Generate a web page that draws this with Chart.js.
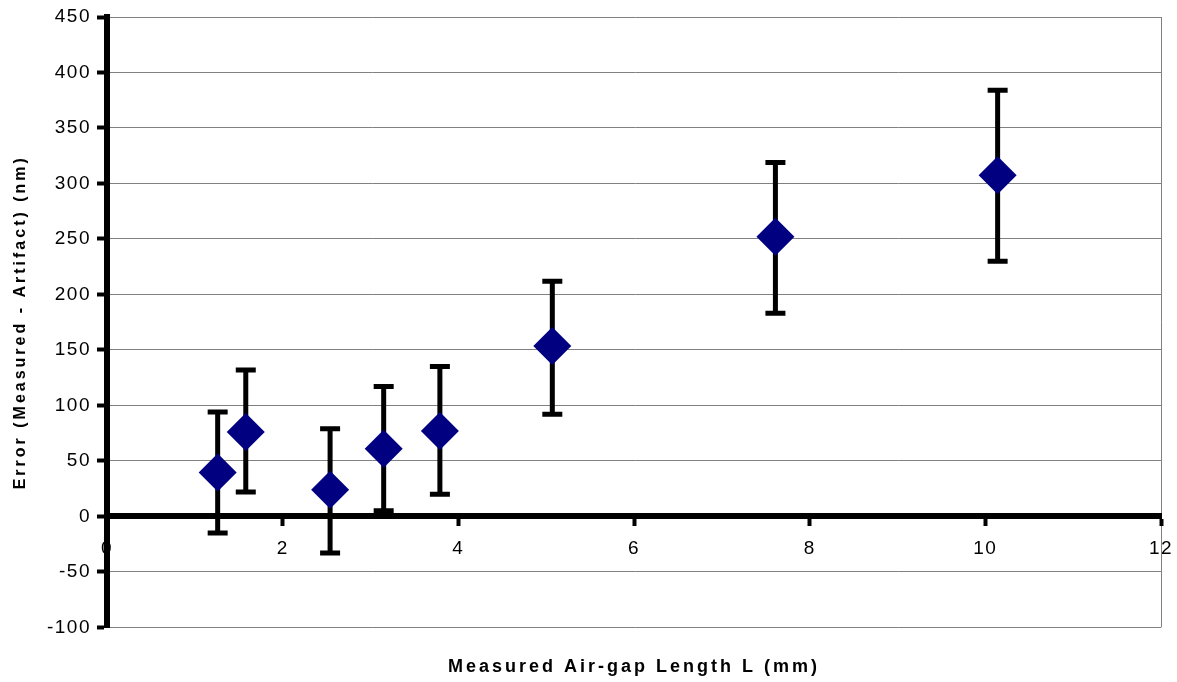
<!DOCTYPE html>
<html>
<head>
<meta charset="utf-8">
<script src="https://cdn.jsdelivr.net/npm/chart.js@4.4.0/dist/chart.umd.min.js"></script>
<style>
  html, body { margin: 0; padding: 0; background: #fff; }
  #wrap { width: 1177px; height: 682px; }
</style>
</head>
<body>
<div id="wrap"><canvas id="chart" width="1177" height="682"></canvas></div>
<script>
// air-gap length (mm) and measured error (nm)
const gapLength = [1.26, 1.58, 2.54, 3.15, 3.79, 5.07, 7.61, 10.14];
const errorNm   = [39.5, 76, 24, 61, 77, 153.5, 252, 307.5];
const errHigh   = [94, 132, 79, 117, 135, 212, 319, 384];
const errLow    = [-15, 22, -33, 5, 20, 92, 183, 230];

const xTitle = 'Measured Air-gap Length L (mm)';
const yTitle = 'Error (Measured - Artifact) (nm)';

// the original text is spread out a little: wider on the titles,
// tick label layers (z:1) are drawn after the datasets with a smaller spacing
const spacing = {
    id: 'spacing',
    beforeUpdate(chart) { chart.ctx.letterSpacing = '1.5px'; },
    beforeDraw(chart) { chart.ctx.letterSpacing = '3px'; },
    afterDatasetsDraw(chart) { chart.ctx.letterSpacing = '1.5px'; }
};

// error bars drawn under the diamonds
const errorBars = {
    id: 'errorBars',
    beforeDatasetsDraw(chart) {
        const { ctx, scales: { x, y } } = chart;
        ctx.save();
        ctx.strokeStyle = '#000';
        ctx.lineWidth = 5;
        ctx.lineCap = 'butt';
        gapLength.forEach((g, i) => {
            const px = x.getPixelForValue(g);
            const top = y.getPixelForValue(errHigh[i]);
            const bot = y.getPixelForValue(errLow[i]);
            ctx.beginPath();
            ctx.moveTo(px, top);
            ctx.lineTo(px, bot);
            ctx.moveTo(px - 10, top);
            ctx.lineTo(px + 10, top);
            ctx.moveTo(px - 10, bot);
            ctx.lineTo(px + 10, bot);
            ctx.stroke();
        });
        ctx.restore();
    }
};

new Chart(document.getElementById('chart').getContext('2d'), {
    type: 'scatter',
    data: {
        datasets: [{
            data: gapLength.map((g, i) => ({ x: g, y: errorNm[i] })),
            pointStyle: 'rectRot',
            pointRadius: 19,
            pointHoverRadius: 19,
            backgroundColor: '#000080',
            borderColor: '#000080',
            borderWidth: 0
        }]
    },
    options: {
        responsive: false,
        animation: false,
        layout: { autoPadding: false, padding: { top: 17, right: 16, left: 8, bottom: 0 } },
        plugins: {
            legend: { display: false },
            tooltip: { enabled: false },
            title: {
                display: true,
                position: 'bottom',
                fullSize: false,
                text: xTitle,
                color: '#000',
                font: { family: 'Liberation Sans, Arial', size: 18, weight: 'bold' },
                padding: { top: 29, bottom: 4 }
            }
        },
        scales: {
            x: {
                type: 'linear',
                position: { y: 0 },
                min: 0,
                max: 12,
                afterFit: s => { s.paddingLeft = 0; s.paddingRight = 0; },
                ticks: {
                    stepSize: 2,
                    color: '#000',
                    padding: 14,
                    z: 1,
                    font: { family: 'Liberation Sans, Arial', size: 19 }
                },
                grid: {
                    drawOnChartArea: true,
                    color: c => (c.tick && c.tick.value === 12) ? '#808080' : 'rgba(0,0,0,0)',
                    lineWidth: 1,
                    tickColor: '#000',
                    tickWidth: 4,
                    tickLength: 7
                },
                border: { color: '#000', width: 6 }
            },
            y: {
                min: -100,
                max: 450,
                afterFit: s => { s.width = 99; s.paddingTop = 0; s.paddingBottom = 0; },
                ticks: {
                    stepSize: 50,
                    color: '#000',
                    padding: 6,
                    z: 1,
                    font: { family: 'Liberation Sans, Arial', size: 19 }
                },
                grid: {
                    color: '#808080',
                    lineWidth: 1,
                    tickColor: '#000',
                    tickWidth: 4,
                    tickLength: 10
                },
                border: { color: '#000', width: 6 },
                title: {
                    display: true,
                    text: yTitle,
                    color: '#000',
                    font: { family: 'Liberation Sans, Arial', size: 16, weight: 'bold' },
                    padding: { top: 3, bottom: 0 }
                }
            }
        }
    },
    plugins: [spacing, errorBars]
});
</script>
</body>
</html>
